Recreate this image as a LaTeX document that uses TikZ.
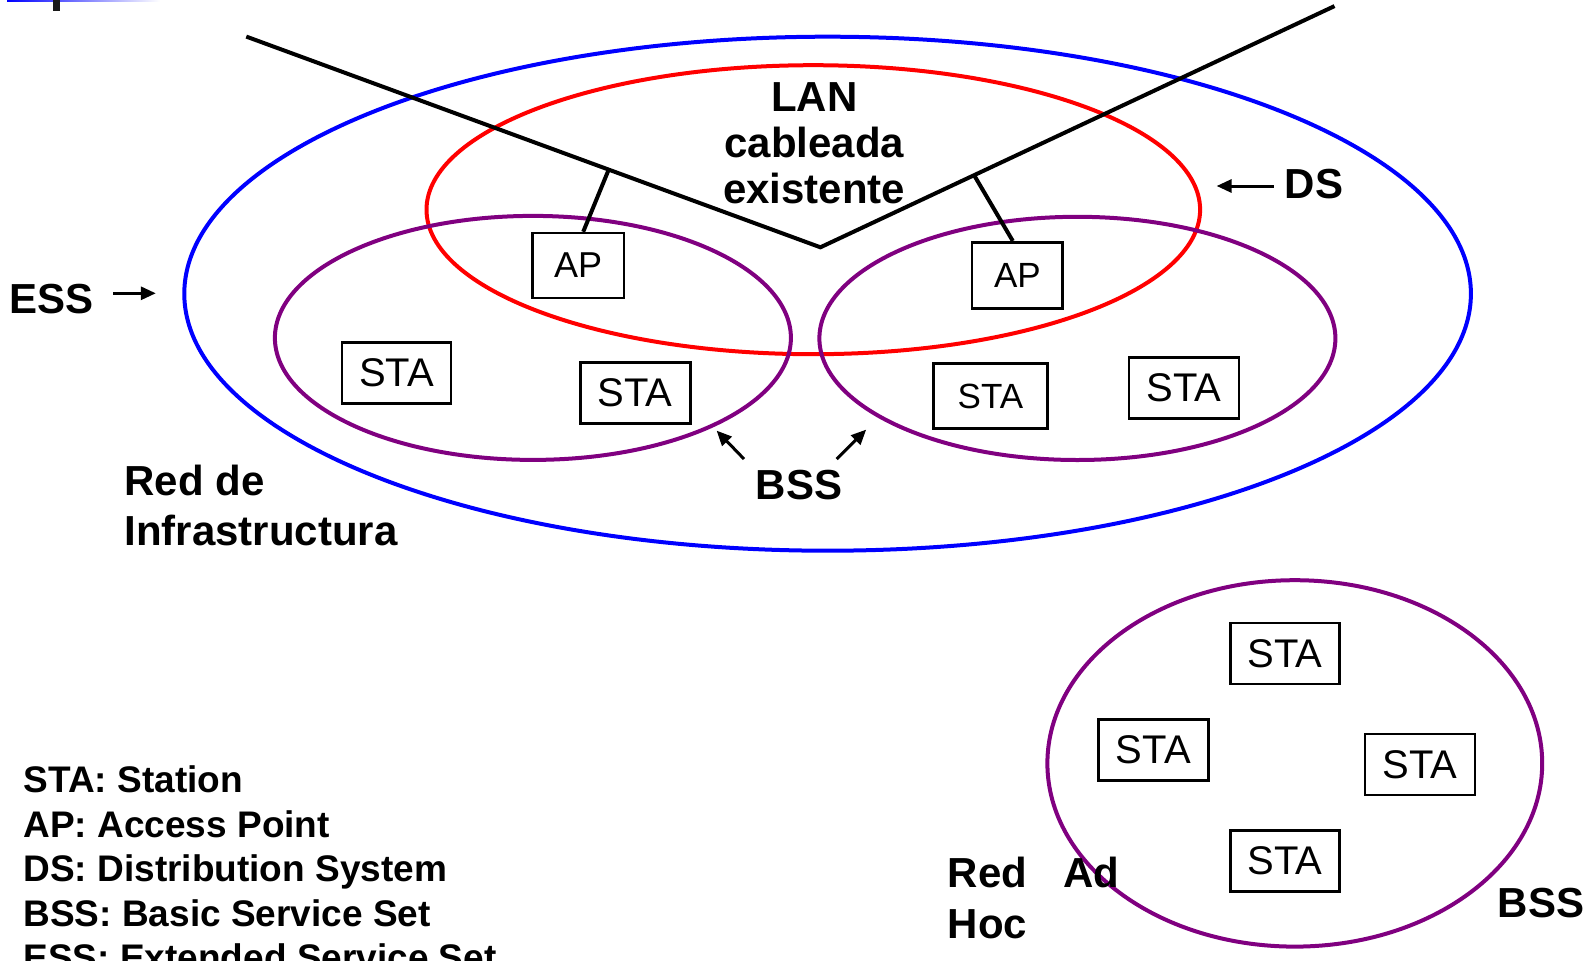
\documentclass[tikz,border=0pt]{standalone}
\usepackage{fontspec}
\setmainfont{Liberation Sans}
\usetikzlibrary{arrows.meta}
\definecolor{essblue}{RGB}{0,0,255}
\definecolor{lanred}{RGB}{255,0,0}
\definecolor{bsspurple}{RGB}{128,0,128}
\begin{document}
\begin{tikzpicture}[x=1pt,y=-1pt,
  ring/.style={line width=4pt},
  wire/.style={line width=4pt, black},
  devbox/.style={draw, line width=2.6pt, fill=white, inner sep=0pt, minimum width=109pt, minimum height=61pt, font=\fontsize{40}{46}\selectfont},
  lbl/.style={font=\fontsize{42}{46}\selectfont\bfseries, inner sep=0pt},
  ptr/.style={line width=3pt, -{Triangle[length=15pt,width=13pt]}}]
\useasboundingbox (0,0) rectangle (1596,961);
\clip (0,0) rectangle (1596,961);
% cropped title remnant
\shade[left color=essblue, right color=white] (7,0) rectangle (160,1.5);
\fill[black!90] (53,0) rectangle (60,11);
% sets
\draw[ring, essblue] (827.6,293.7) ellipse [x radius=643.3pt, y radius=257pt];
\draw[ring, lanred] (813.3,209.7) ellipse [x radius=386.8pt, y radius=144.5pt];
\draw[ring, bsspurple] (532.9,337.9) ellipse [x radius=258pt, y radius=122pt];
\draw[ring, bsspurple] (1077.4,338.4) ellipse [x radius=258pt, y radius=121.6pt];
\draw[ring, bsspurple] (1294.8,763.4) ellipse [x radius=247.4pt, y radius=183.2pt];
% wired LAN
\coordinate (w1) at (246.3,36.6);
\coordinate (wv) at (820.4,247.3);
\coordinate (w2) at (1334.5,6.1);
\coordinate (tap1) at (608.7,169.6);
\coordinate (tap2) at (974.1,175.2);
\draw[wire] (w1) -- (wv) -- (w2);
% devices
\node[devbox, minimum width=91.6pt, minimum height=65pt, font=\fontsize{36}{40}\selectfont] (ap1) at (578.2,265.6) {AP};
\node[devbox, minimum width=90.6pt, minimum height=66pt, font=\fontsize{35}{40}\selectfont] (ap2) at (1017.4,275.3) {AP};
\draw[wire] (tap1) -- ([xshift=5pt]ap1.north);
\draw[wire] (tap2) -- ([xshift=-4.6pt]ap2.north);
\node[devbox] (sta1) at (396.5,373) {STA};
\node[devbox, minimum width=110pt] (sta2) at (635.2,392.9) {STA};
\node[devbox, minimum width=114pt, minimum height=65pt, font=\fontsize{35}{40}\selectfont] (sta3) at (990.4,396) {STA};
\node[devbox, minimum width=110pt] (sta4) at (1183.8,387.8) {STA};
\node[devbox] (sta5) at (1285.1,653.5) {STA};
\node[devbox, minimum width=110pt] (sta6) at (1153.3,750.2) {STA};
\node[devbox, minimum width=110pt] (sta7) at (1420,764.5) {STA};
\node[devbox] (sta8) at (1285.1,861.2) {STA};
% labels
\node[lbl, align=center] (lan) at (814.3,143) {LAN\\cableada\\existente};
\node[lbl] (ds) at (1314,184) {DS};
\draw[ptr] ([xshift=-11pt,yshift=-2pt]ds.west) -- +(-57pt,0);
\node[lbl] (ess) at (51.4,299.3) {ESS};
\draw[ptr] ([xshift=19.5pt,yshift=6pt]ess.east) -- +(42.7pt,0);
\node[lbl, align=left, anchor=west, font=\fontsize{42}{50}\selectfont\bfseries] (infra) at (124.2,505.3) {Red de\\Infrastructura};
\node[lbl] (bss) at (799,485.5) {BSS};
\coordinate (bssLa) at (744,459);
\coordinate (bssLb) at (716.6,430.6);
\coordinate (bssRa) at (836.7,459);
\coordinate (bssRb) at (866.2,429.6);
\draw[ptr] (bssLa) -- (bssLb);
\draw[ptr] (bssRa) -- (bssRb);
\node[lbl, align=left, anchor=west, font=\fontsize{42}{51}\selectfont\bfseries] (adhoc) at (947.7,897.8) {Red\hspace{36pt}Ad\\Hoc};
\node[lbl] (bss2) at (1540.9,902.9) {BSS};
\node[lbl, align=left, anchor=west, font=\fontsize{37}{44.5}\selectfont\bfseries] (legend) at (23.4,868.7) {STA: Station\\AP: Access Point\\DS: Distribution System\\BSS: Basic Service Set\\ESS: Extended Service Set};
\end{tikzpicture}
\end{document}
